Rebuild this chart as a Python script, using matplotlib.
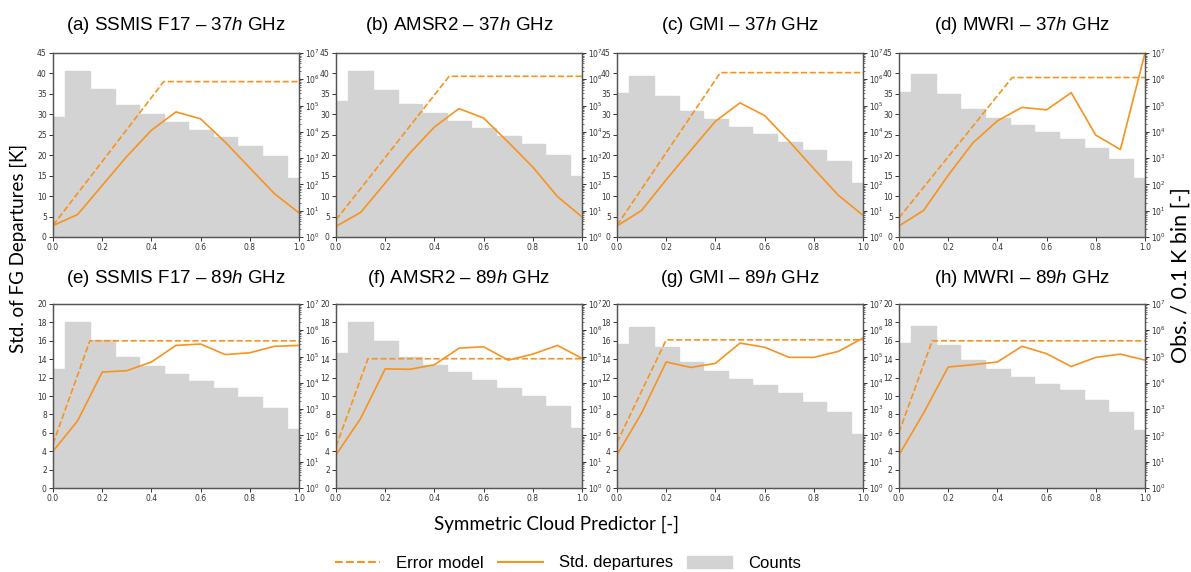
import numpy as np
import matplotlib.pyplot as plt
from matplotlib.lines import Line2D
from matplotlib.patches import Patch

plt.rcParams['mathtext.fontset'] = 'custom'
plt.rcParams['mathtext.rm'] = 'Liberation Sans'
plt.rcParams['mathtext.it'] = 'Liberation Sans:italic'

titles = [
    '(a) SSMIS F17 – 37$\\it{h}$ GHz', '(b) AMSR2 – 37$\\it{h}$ GHz',
    '(c) GMI – 37$\\it{h}$ GHz', '(d) MWRI – 37$\\it{h}$ GHz',
    '(e) SSMIS F17 – 89$\\it{h}$ GHz', '(f) AMSR2 – 89$\\it{h}$ GHz',
    '(g) GMI – 89$\\it{h}$ GHz', '(h) MWRI – 89$\\it{h}$ GHz',
]

# symmetric cloud predictor bins
scp = [0.0, 0.1, 0.2, 0.3, 0.4, 0.5, 0.6, 0.7, 0.8, 0.9, 1.0]

# observations per bin
counts_a = [3.6e4, 2.0e6, 4.4e5, 1.06e5, 4.6e4, 2.3e4, 1.19e4, 6.2e3, 2.9e3, 1.16e3, 1.8e2]
counts_b = [1.46e5, 2.0e6, 4.0e5, 1.1e5, 5.0e4, 2.6e4, 1.37e4, 7.0e3, 3.4e3, 1.29e3, 2.0e2]
counts_c = [3.0e5, 1.35e6, 2.4e5, 6.4e4, 3.0e4, 1.53e4, 8.3e3, 4.2e3, 2.0e3, 8.1e2, 1.17e2]
counts_d = [3.3e5, 1.55e6, 2.8e5, 7.7e4, 3.5e4, 1.77e4, 9.6e3, 5.4e3, 2.4e3, 9.0e2, 1.68e2]
counts_e = [3.5e4, 2.0e6, 4.3e5, 1.0e5, 4.5e4, 2.2e4, 1.15e4, 6.5e3, 2.9e3, 1.1e3, 1.74e2]
counts_f = [1.4e5, 2.0e6, 4.0e5, 1.0e5, 4.9e4, 2.6e4, 1.24e4, 6.5e3, 3.2e3, 1.3e3, 1.9e2]
counts_g = [2.9e5, 1.33e6, 2.3e5, 6.2e4, 2.8e4, 1.46e4, 8.3e3, 4.0e3, 1.87e3, 8.0e2, 1.16e2]
counts_h = [3.4e5, 1.5e6, 2.7e5, 7.3e4, 3.5e4, 1.7e4, 9.0e3, 5.4e3, 2.3e3, 8.0e2, 1.6e2]

# std. of FG departures [K]
std_a = [2.8, 5.5, 12.6, 19.7, 26.1, 30.6, 28.9, 23.2, 16.9, 10.6, 5.9]
std_b = [2.6, 6.0, 13.2, 20.5, 26.9, 31.4, 29.1, 23.2, 17.1, 9.9, 4.9]
std_c = [2.7, 6.5, 14.0, 21.2, 28.3, 32.8, 29.7, 23.4, 16.7, 10.2, 5.3]
std_d = [2.7, 6.5, 15.1, 23.0, 28.4, 31.7, 31.1, 35.3, 24.9, 21.4, 45.0]
std_e = [4.0, 7.3, 12.6, 12.75, 13.7, 15.5, 15.65, 14.5, 14.7, 15.4, 15.5]
std_f = [3.6, 7.55, 12.95, 12.9, 13.4, 15.2, 15.35, 13.9, 14.55, 15.5, 14.1]
std_g = [3.6, 8.15, 13.7, 13.1, 13.55, 15.75, 15.3, 14.2, 14.2, 14.85, 16.3]
std_h = [3.6, 8.15, 13.15, 13.4, 13.7, 15.4, 14.6, 13.2, 14.2, 14.55, 13.9]

# error model: clear-sky value, predictor at saturation, cloudy value
err_clear = [2.85, 4.2, 2.85, 4.7, 4.8, 4.5, 4.96, 6.05]
err_knee = [0.45, 0.46, 0.42, 0.46, 0.15, 0.13, 0.20, 0.135]
err_cloudy = [38.0, 39.3, 40.2, 39.0, 16.0, 14.05, 16.1, 16.0]

counts = [counts_a, counts_b, counts_c, counts_d, counts_e, counts_f, counts_g, counts_h]
stds = [std_a, std_b, std_c, std_d, std_e, std_f, std_g, std_h]

orange = '#f7931e'
W, H = 1191, 572
lefts = [53, 336, 617, 899]
tops = [53, 304]
aw, ah = 246, 184

fig = plt.figure(figsize=(W / 100, H / 100), dpi=100)

for i in range(8):
    row, col = divmod(i, 4)
    rect = [lefts[col] / W, 1 - (tops[row] + ah) / H, aw / W, ah / H]
    ax = fig.add_axes(rect)
    ax2 = ax.twinx()

    ax2.bar(scp, counts[i], width=0.1, bottom=1, color='lightgray',
            edgecolor='lightgray', linewidth=1.0)
    ax2.set_yscale('log')
    ax2.set_ylim(1, 1e7)

    ax.plot([0, err_knee[i], 1], [err_clear[i], err_cloudy[i], err_cloudy[i]],
            color=orange, lw=1.2, ls='--')
    ax.plot(scp, stds[i], color=orange, lw=1.2)

    ax.set_zorder(ax2.get_zorder() + 1)
    ax.patch.set_visible(False)
    ax.set_xlim(0, 1)
    if row == 0:
        ax.set_ylim(0, 45)
        ax.set_yticks(np.arange(0, 46, 5))
    else:
        ax.set_ylim(0, 20)
        ax.set_yticks(np.arange(0, 21, 2))
    ax.set_xticks([0, 0.2, 0.4, 0.6, 0.8, 1.0])

    for a in (ax, ax2):
        a.tick_params(labelsize=5.5, length=3, width=0.7, colors='#333333', pad=1.5)
        a.tick_params(which='minor', length=1.5, width=0.5, colors='#333333')
        for s in a.spines.values():
            s.set_color('#555555')
            s.set_linewidth(0.9)

    fig.text((lefts[col] + aw / 2) / W, 1 - (25 if row == 0 else 279) / H, titles[i],
             ha='center', va='center', fontsize=13.5, family='Liberation Sans')

fig.text(18 / W, 1 - 248 / H, 'Std. of FG Departures [K]', rotation=90,
         ha='center', va='center', fontsize=13.5, family='Lato')
fig.text(1181 / W, 1 - 275 / H, 'Obs. / 0.1 K bin [-]', rotation=90,
         ha='center', va='center', fontsize=15.5, family='Lato')
fig.text(556 / W, 1 - 524 / H, 'Symmetric Cloud Predictor [-]',
         ha='center', va='center', fontsize=13.5, family='Lato')

handles = [
    Line2D([], [], color=orange, lw=1.5, ls='--'),
    Line2D([], [], color=orange, lw=1.5),
    Patch(color='lightgray'),
]
fig.legend(handles, ['Error model', 'Std. departures', 'Counts'],
           loc='center', bbox_to_anchor=(568 / W, 1 - 563 / H), ncol=3,
           frameon=False, handlelength=2.7, handletextpad=0.95, columnspacing=0.85,
           prop={'family': 'Liberation Sans', 'size': 12})

fig.savefig('out.png', dpi=100)
